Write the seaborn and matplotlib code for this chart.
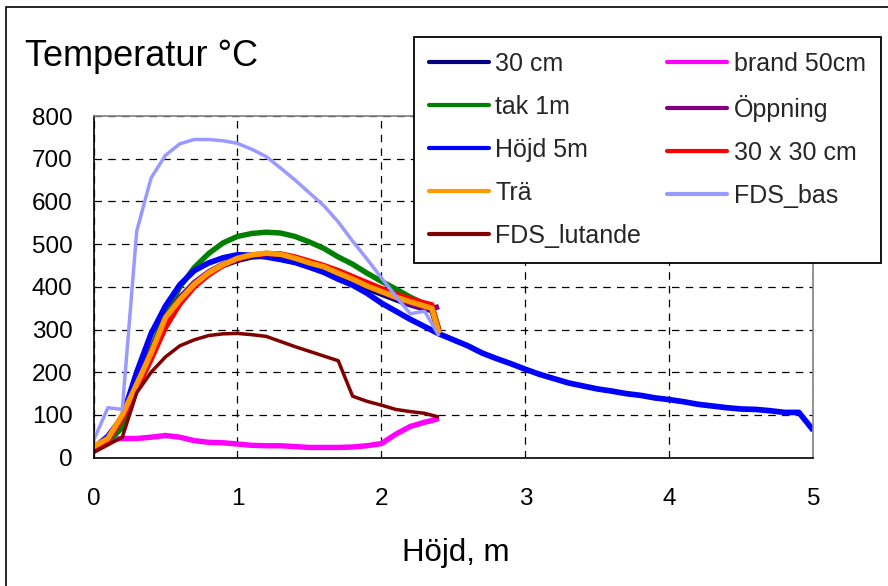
import numpy as np
import pandas as pd
import matplotlib
matplotlib.use("Agg")
import matplotlib.pyplot as plt
import seaborn as sns
from matplotlib.patches import Rectangle

# ---------------- data ----------------
x_meas = [0.0, 0.1, 0.2, 0.3, 0.4, 0.5, 0.6, 0.7, 0.8, 0.9, 1.0, 1.1, 1.2,
          1.3, 1.4, 1.5, 1.6, 1.7, 1.8, 1.9, 2.0, 2.1, 2.2, 2.3, 2.35, 2.4]
x_fds = [0.0, 0.1, 0.2, 0.3, 0.4, 0.5, 0.6, 0.7, 0.8, 0.9, 1.0, 1.1, 1.2,
         1.3, 1.4, 1.5, 1.6, 1.7, 1.8, 1.9, 2.0, 2.1, 2.2, 2.3, 2.4]
x_hojd = [0.0, 0.1, 0.2, 0.3, 0.4, 0.5, 0.6, 0.7, 0.8, 0.9, 1.0, 1.1, 1.2,
          1.3, 1.4, 1.5, 1.6, 1.7, 1.8, 1.9, 2.0, 2.1, 2.2, 2.3, 2.4, 2.5,
          2.6, 2.7, 2.8, 2.9, 3.0, 3.1, 3.2, 3.3, 3.4, 3.5, 3.6, 3.7, 3.8,
          3.9, 4.0, 4.1, 4.2, 4.3, 4.4, 4.5, 4.6, 4.7, 4.8, 4.9, 5.0]

cm30 = [18, 40, 95, 170, 245, 320, 370, 408, 432, 450, 462, 470, 472,
        468, 460, 448, 436, 423, 410, 396, 383, 370, 358, 348, 345, 290]
brand50 = [20, 42, 45, 45, 48, 52, 48, 40, 36, 35, 32, 29, 28,
           28, 26, 24, 24, 24, 25, 28, 33, 55, 73, 83, 87, 92]
tak1m = [20, 38, 70, 175, 255, 335, 400, 445, 478, 503, 518, 525, 528,
         526, 518, 505, 490, 470, 453, 432, 413, 395, 376, 360, 352, 300]
oppning = [20, 42, 98, 175, 250, 325, 375, 410, 435, 453, 466, 474, 478,
           476, 468, 458, 446, 432, 418, 403, 388, 374, 360, 350, 348, 354]
hojd5m = [22, 50, 95, 200, 290, 355, 405, 438, 456, 468, 475, 474, 470,
          464, 457, 446, 434, 418, 404, 385, 362, 343, 324, 307, 290, 276,
          262, 245, 232, 220, 207, 195, 185, 175, 168, 161, 156, 150, 146,
          140, 136, 131, 125, 121, 117, 114, 113, 110, 106, 106, 64]
cm30x30 = [22, 40, 92, 160, 230, 305, 360, 400, 428, 450, 465, 474, 478,
           477, 470, 460, 450, 438, 424, 410, 396, 383, 372, 362, 358, 295]
tra = [26, 45, 100, 172, 245, 328, 370, 406, 433, 452, 467, 475, 479,
       476, 467, 456, 447, 432, 418, 402, 389, 376, 365, 355, 350, 291]
fds_bas = [40, 117, 113, 530, 655, 708, 735, 745, 745, 742, 736, 722, 705,
           678, 650, 620, 590, 552, 507, 465, 421, 378, 337, 343, 285]
fds_lutande = [12, 30, 48, 152, 200, 236, 262, 276, 286, 290, 291, 288, 284,
               272, 260, 249, 238, 227, 144, 132, 123, 113, 108, 104, 95]

labels = ["30 cm", "brand 50cm", "tak 1m", "Öppning", "Höjd 5m",
          "30 x 30 cm", "Trä", "FDS_bas", "FDS_lutande"]
y_ticks = [0, 100, 200, 300, 400, 500, 600, 700, 800]
x_ticks = [0, 1, 2, 3, 4, 5]

series = [
    (labels[0], x_meas, cm30, "#000080", 3.9),
    (labels[1], x_meas, brand50, "#FF00FF", 3.9),
    (labels[2], x_meas, tak1m, "#008000", 3.9),
    (labels[3], x_meas, oppning, "#800080", 3.9),
    (labels[4], x_hojd, hojd5m, "#0000FF", 4.1),
    (labels[5], x_meas, cm30x30, "#FF0000", 3.9),
    (labels[6], x_meas, tra, "#FF9900", 3.9),
    (labels[7], x_fds, fds_bas, "#9999FF", 2.5),
    (labels[8], x_fds, fds_lutande, "#800000", 2.5),
]

# ---------------- plot ----------------
sns.set_theme(style="white")
plt.rcParams["font.family"] = ["Liberation Sans", "DejaVu Sans"]

fig = plt.figure(figsize=(8.88, 5.86), dpi=100)
ax = fig.add_axes([93.5 / 888, 1 - 457.7 / 586, (813.3 - 93.5) / 888, (457.7 - 116) / 586])

handles = {}
for name, xs, ys, col, lw in series:
    df = pd.DataFrame({"x": xs, "y": ys})
    sns.lineplot(data=df, x="x", y="y", color=col, linewidth=lw, ax=ax,
                 sort=False, estimator=None, label=name, legend=False,
                 solid_joinstyle="round", solid_capstyle="butt")
    handles[name] = ax.lines[-1]

ax.set_xlim(0, 5)
ax.set_ylim(0, 800)
ax.set_xticks(x_ticks)
ax.set_yticks(y_ticks)
ax.set_xticklabels([str(t) for t in x_ticks])
ax.set_yticklabels([str(t) for t in y_ticks])
ax.set_xlabel("")
ax.set_ylabel("")

ax.grid(True, color="black", linestyle=(0, (6, 5)), linewidth=0.9)
ax.set_axisbelow(True)
for s in ["left", "bottom"]:
    ax.spines[s].set_color("black")
    ax.spines[s].set_linewidth(1.2)
for s in ["top", "right"]:
    ax.spines[s].set_color("#808080")
    ax.spines[s].set_linewidth(1.2)

ax.tick_params(axis="both", which="major", direction="out", length=6,
               width=1.0, color="black", labelsize=17.5, labelcolor="black")
ax.tick_params(axis="y", pad=9)
ax.tick_params(axis="x", pad=16)

# title and x label
fig.text(25 / 888, 1 - 56 / 586, "Temperatur °C", fontsize=26,
         ha="left", va="center", color="black")
fig.text(456 / 888, 1 - 553 / 586, "Höjd, m", fontsize=22.5,
         ha="center", va="center", color="black")

# legend (Excel row-major order -> matplotlib column-major)
order = ["30 cm", "tak 1m", "Höjd 5m", "Trä", "FDS_lutande",
         "brand 50cm", "Öppning", "30 x 30 cm", "FDS_bas"]
leg = ax.legend([handles[n] for n in order], order, ncol=2,
                loc="upper left", bbox_to_anchor=(414 / 888, 1 - 37 / 586),
                bbox_transform=fig.transFigure, borderaxespad=0,
                fontsize=18, frameon=True, fancybox=False, shadow=False,
                framealpha=1, edgecolor="black", handlelength=2.4,
                handletextpad=0.25, borderpad=0.6, labelspacing=0.76,
                columnspacing=1.05)
leg.get_frame().set_linewidth(1.3)
for lh in leg.get_lines():
    lh.set_linewidth(3.0)
    lh.set_solid_capstyle("round")

# outer chart border
fig.patches.append(Rectangle((6 / 888, -0.1), 1.2, 1 - 7 / 586 + 0.1,
                             transform=fig.transFigure, fill=False,
                             edgecolor="black", linewidth=1.2))

fig.savefig("out.png", dpi=100)
